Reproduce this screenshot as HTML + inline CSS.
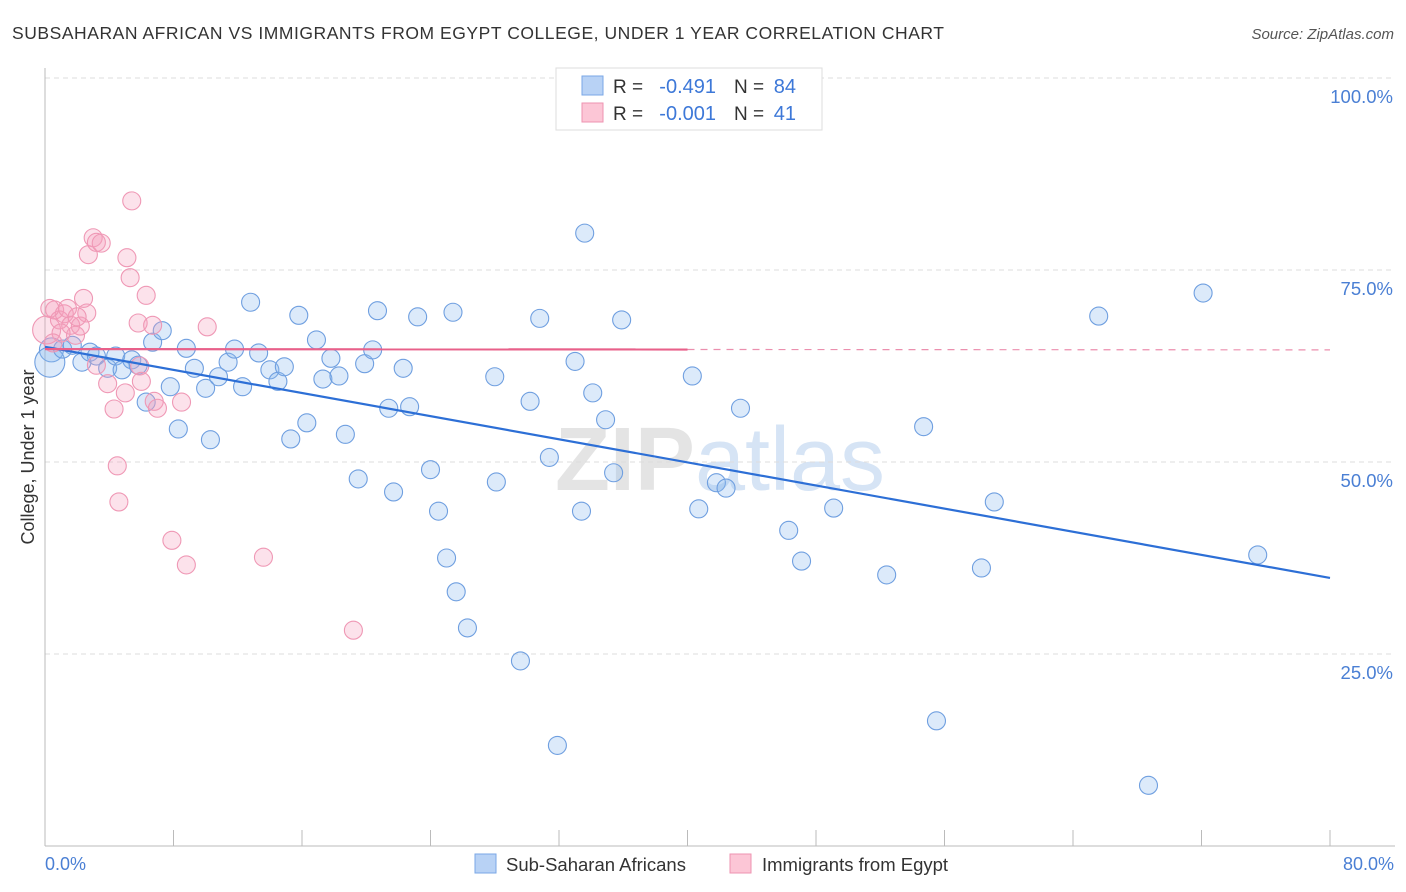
<!DOCTYPE html>
<html><head><meta charset="utf-8"><style>
body{margin:0;background:#fff;font-family:"Liberation Sans",sans-serif;}
#c{position:relative;width:1406px;height:892px;overflow:hidden}
</style></head><body>
<div id="c">
<svg width="1406" height="892" xmlns="http://www.w3.org/2000/svg" id="svg" font-family="Liberation Sans, sans-serif">
<text x="12" y="39" font-size="17.5" fill="#333" textLength="932">SUBSAHARAN AFRICAN VS IMMIGRANTS FROM EGYPT COLLEGE, UNDER 1 YEAR CORRELATION CHART</text>
<text x="1394" y="39" font-size="15" fill="#555" text-anchor="end" font-style="italic">Source: ZipAtlas.com</text>
<text x="720" y="490" font-size="90" fill="#e4e4e4" text-anchor="middle" font-weight="bold">ZIP<tspan font-weight="normal" fill="#d6e4f5">atlas</tspan></text>
<g id="grid"></g>
<line x1="45" y1="68" x2="45" y2="846" stroke="#bbb"/>
<line x1="45" y1="846" x2="1395" y2="846" stroke="#bbb"/>
<g id="xt"></g>
<text x="45" y="870" font-size="18" fill="#4a7fd4">0.0%</text>
<text x="1394" y="870" font-size="18" fill="#4a7fd4" text-anchor="end">80.0%</text>
<text transform="translate(34,457) rotate(-90)" font-size="18" fill="#333" text-anchor="middle">College, Under 1 year</text>
<g id="pts"></g>
<g id="lines"></g>
<g>
<rect x="556" y="68" width="266" height="62" fill="#fff" stroke="#ddd"/>
<rect x="582" y="76" width="21" height="19" fill="#b8d2f5" stroke="#7aa7e6"/>
<text x="613" y="93" font-size="19" fill="#333">R =</text>
<text x="716" y="93" font-size="20" fill="#3d78d8" text-anchor="end">-0.491</text>
<text x="734" y="93" font-size="19" fill="#333">N =</text>
<text x="796" y="93" font-size="20" fill="#3d78d8" text-anchor="end">84</text>
<rect x="582" y="103" width="21" height="19" fill="#fcc6d6" stroke="#ee93b0"/>
<text x="613" y="120" font-size="19" fill="#333">R =</text>
<text x="716" y="120" font-size="20" fill="#3d78d8" text-anchor="end">-0.001</text>
<text x="734" y="120" font-size="19" fill="#333">N =</text>
<text x="796" y="120" font-size="20" fill="#3d78d8" text-anchor="end">41</text>
</g>
<g>
<rect x="475" y="854" width="21" height="19" fill="#b8d2f5" stroke="#7aa7e6"/>
<text x="506" y="871" font-size="18.5" fill="#333">Sub-Saharan Africans</text>
<rect x="730" y="854" width="21" height="19" fill="#fcc6d6" stroke="#ee93b0"/>
<text x="762" y="871" font-size="18.5" fill="#333">Immigrants from Egypt</text>
</g>
</svg>
</div>
<script>
const yTicks=[25,50,75,100];
const yTickLabels=["25.0%","50.0%","75.0%","100.0%"];
const xTicks=[0,8,16,24,32,40,48,56,64,72,80];
const blueX=[0.4,0.3,1.1,1.7,2.3,2.8,3.2,3.9,4.4,4.8,5.4,5.8,6.3,6.7,7.3,7.8,8.3,8.8,9.3,10.0,10.3,10.8,11.4,11.8,12.3,12.8,13.3,14.0,14.5,14.9,15.3,15.8,16.3,16.9,17.3,17.8,18.3,18.7,19.5,19.9,20.4,20.7,21.4,21.7,22.3,22.7,23.2,24.0,24.5,25.0,25.4,25.6,26.3,28.0,28.1,29.6,30.2,30.8,31.4,31.9,33.0,33.4,33.6,34.1,34.9,35.4,35.9,40.3,40.7,41.8,42.4,43.3,46.3,47.1,49.1,52.4,54.7,55.5,58.3,59.1,65.6,68.7,72.1,75.5];
const blueY=[64.6,63.0,64.7,65.2,63.0,64.3,63.8,62.2,63.8,62.0,63.3,62.6,57.8,65.6,67.1,59.8,54.3,64.8,62.2,59.6,52.9,61.1,63.0,64.7,59.8,70.8,64.2,62.0,60.5,62.4,53.0,69.1,55.1,65.9,60.8,63.5,61.2,53.6,47.8,62.8,64.6,69.7,57.0,46.1,62.2,57.2,68.9,49.0,43.6,37.5,69.5,33.1,28.4,61.1,47.4,24.1,57.9,68.7,50.6,13.1,63.1,43.6,79.8,59.0,55.5,48.6,68.5,61.2,43.9,47.3,46.6,57.0,41.1,37.1,44.0,35.3,54.6,16.3,36.2,44.8,69.0,7.9,72.0,37.9];
const pinkX=[0.1,0.6,0.9,1.2,1.6,1.9,2.2,2.4,2.6,2.7,3.0,3.2,3.5,3.2,3.9,4.3,4.5,4.6,5.0,5.1,5.3,5.4,5.8,5.9,6.0,6.3,6.7,6.8,7.0,7.9,8.5,8.8,10.1,13.6,19.2,39.5,1.4,1.0,0.3,2.0,0.5];
const pinkY=[67.2,69.8,68.5,69.3,67.8,66.5,67.7,71.3,69.4,77.0,79.2,78.6,78.5,62.6,60.2,56.9,49.5,44.8,59.0,76.6,74.0,84.0,68.1,62.5,60.5,71.7,67.8,57.9,57.0,39.8,57.8,36.6,67.6,37.6,28.1,99.7,70.0,66.8,70.0,68.9,65.5];
const blueTrend=[65.0,34.9];
const pinkTrend=[64.7,64.6];
const X=v=>45+v/80*1285, Y=v=>846-v/100*768;
const NS="http://www.w3.org/2000/svg";
function mk(t,a,p){const e=document.createElementNS(NS,t);for(const k in a)e.setAttribute(k,a[k]);p.appendChild(e);return e;}
const grid=document.getElementById('grid');
yTicks.forEach((t,i)=>{
 const l=mk('line',{x1:45,x2:1395,y1:Y(t),y2:Y(t),stroke:'#ddd','stroke-dasharray':'5,4'},grid);
 
 
 const tx=mk('text',{x:1393,y:Y(t)+25,'font-size':18.5,fill:'#4a7fd4','text-anchor':'end'},grid);
 tx.textContent=yTickLabels[i];
 
 
});
const xt=document.getElementById('xt');
xTicks.forEach(t=>{
 const l=mk('line',{x1:X(t),x2:X(t),y1:830,y2:846,stroke:'#bbb'},xt);
 
 
});
const pts=document.getElementById('pts');
blueX.forEach((x,i)=>{
 const r=(i<2)?(i==1?15:12):9;
 const c=mk('circle',{cx:X(x),cy:Y(blueY[i]),r:r,fill:'rgba(140,185,240,0.3)',stroke:'#6f9fe0','stroke-width':1.1},pts);
 
 
});
pinkX.forEach((x,i)=>{
 const r=(i==0)?14:9;
 const c=mk('circle',{cx:X(x),cy:Y(pinkY[i]),r:r,fill:'rgba(246,160,190,0.3)',stroke:'#ef98b5','stroke-width':1.1},pts);
 
 
});
const lines=document.getElementById('lines');
const bl=mk('line',{x1:X(0),y1:Y(blueTrend[0]),x2:X(80),y2:Y(blueTrend[1]),stroke:'#2d6fd6','stroke-width':2.2},lines);


const pm=(pinkTrend[0]+(pinkTrend[1]-pinkTrend[0])*0.5);
const pl=mk('line',{x1:X(0),y1:Y(pinkTrend[0]),x2:X(40),y2:Y(pm),stroke:'#e8608a','stroke-width':2.2},lines);


const pd=mk('line',{x1:X(40),y1:Y(pm),x2:X(80),y2:Y(pinkTrend[1]),stroke:'#eb8fae','stroke-width':1.2,'stroke-dasharray':'7,6'},lines);


</script>
</body></html>
